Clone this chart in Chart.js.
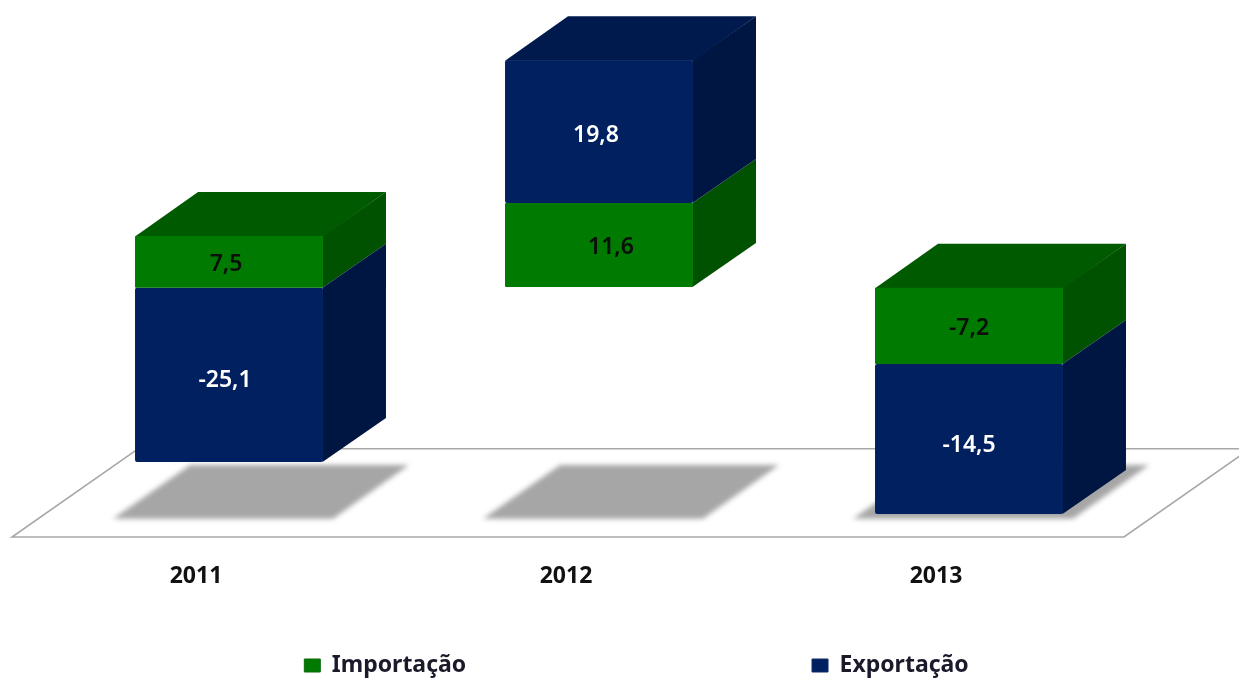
<!DOCTYPE html>
<html><head><meta charset="utf-8">
<style>html,body{margin:0;padding:0;background:#fff;overflow:hidden}#w{width:1239px;height:678px}canvas{filter:blur(.45px)}</style>
<script src="https://cdn.jsdelivr.net/npm/chart.js@4"></script>
</head><body><div id="w"><canvas id="c"></canvas></div>
<script>
const categories = ['2011','2012','2013'];
const importSeriesName = 'Importação';
const exportSeriesName = 'Exportação';
const importSpans = [[35.6,43.0],[35.7,47.7],[24.7,35.6]];
const exportSpans = [[10.7,35.6],[47.7,68.1],[3.3,24.7]];
const importLabels = ['7,5','11,6','-7,2'];
const exportLabels = ['-25,1','19,8','-14,5'];
const importNudge = [[-3,3],[12,2],[0,3]];
const exportNudge = [[-4,6],[-3,4],[0,6]];

const FONT = '"Noto Sans"';
const DX = 63, DY = 44;
const FACE = {
  green: {front:'#007a00', side:'#005200', top:'#005a00'},
  navy:  {front:'#00205f', side:'#001642', top:'#001a4e'}
};
const styles = [FACE.green, FACE.navy];

function poly(ctx, pts, fill){
  ctx.beginPath();
  pts.forEach((p,i)=> i?ctx.lineTo(p[0],p[1]):ctx.moveTo(p[0],p[1]));
  ctx.closePath();
  ctx.fillStyle = fill; ctx.fill();
}

const scene = {
  id:'scene',
  beforeDatasetsDraw(chart){
    const {ctx, chartArea:a, scales:{y}} = chart;
    const fy = y.getPixelForValue(0), by = y.getPixelForValue(12.6);
    const fl = a.left-32, fr = a.right-30;
    ctx.save();
    ctx.strokeStyle = '#a8a8a8'; ctx.lineWidth = 1.6;
    ctx.beginPath();
    ctx.moveTo(fl+DX*2, by); ctx.lineTo(fl, fy); ctx.lineTo(fr, fy); ctx.lineTo(fr+DX*2, by); ctx.lineTo(fl+DX*2, by);
    ctx.stroke();
    // floor shadows
    const m0 = chart.getDatasetMeta(0).data;
    const sb = y.getPixelForValue(2.6), st = y.getPixelForValue(10.3);
    ctx.filter = 'blur(2.5px)';
    m0.forEach(el=>{
      const l = el.x-el.width/2, r = el.x+el.width/2;
      poly(ctx, [[l-22,sb],[r+10,sb],[r+86,st],[l+55,st]], '#a6a6a6');
    });
    ctx.filter = 'none';
    // side and top faces
    categories.forEach((c,i)=>{
      let topY = Infinity, topStyle = null, l=0, r=0;
      chart.data.datasets.forEach((ds,d)=>{
        const el = chart.getDatasetMeta(d).data[i];
        l = el.x-el.width/2; r = el.x+el.width/2;
        const t = Math.min(el.y, el.base), b = Math.max(el.y, el.base);
        poly(ctx, [[r-.5,t],[r+DX,t-DY],[r+DX,b-DY],[r-.5,b]], styles[d].side);
        if (t<topY){topY=t; topStyle=styles[d];}
      });
      poly(ctx, [[l,topY+.5],[l+DX,topY-DY],[r+DX,topY-DY],[r,topY+.5]], topStyle.top);
    });
    ctx.restore();
  },
  afterDatasetsDraw(chart){
    const {ctx} = chart;
    ctx.save();
    ctx.font = `600 23px ${FONT}`;
    ctx.textAlign='center'; ctx.textBaseline='middle';
    [[importLabels,importNudge,'#0a0f0a'],[exportLabels,exportNudge,'#ffffff']].forEach((set,d)=>{
      chart.getDatasetMeta(d).data.forEach((el,i)=>{
        ctx.fillStyle = set[2];
        ctx.fillText(set[0][i], el.x+set[1][i][0], (el.y+el.base)/2+set[1][i][1]);
      });
    });
    ctx.restore();
  }
};

new Chart(document.getElementById('c'),{
  type:'bar',
  data:{labels:categories,datasets:[
    {label:importSeriesName,data:importSpans,backgroundColor:FACE.green.front,borderRadius:1,borderSkipped:false,barPercentage:.508,categoryPercentage:1},
    {label:exportSeriesName,data:exportSpans,backgroundColor:FACE.navy.front,borderRadius:2,borderSkipped:false,barPercentage:.508,categoryPercentage:1}
  ]},
  plugins:[scene],
  options:{
    responsive:true,maintainAspectRatio:false,animation:false,
    layout:{padding:{left:44,right:10,top:0,bottom:-9}},
    plugins:{
      tooltip:{enabled:false},
      legend:{position:'bottom',align:'center',
        labels:{boxWidth:16,boxHeight:13,padding:5,color:'#1a1a2a',font:{family:FONT,size:23,weight:'700'},
          generateLabels(chart){
            return chart.data.datasets.map((ds,i)=>({
              text:i===0?ds.label+'\u00a0'.repeat(57):ds.label,
              fillStyle:ds.backgroundColor,strokeStyle:i?'#0f2c66':'#0b6b0b',lineWidth:1,datasetIndex:i,fontColor:'#1a1a2a'
            }));
          }
        }
      }
    },
    scales:{
      x:{stacked:true,grid:{display:false},border:{display:false},
        ticks:{labelOffset:-33,padding:18,color:'#111',maxRotation:0,font:{family:FONT,size:23,weight:'700'}},
        afterFit(s){s.height=112;}
      },
      y:{position:'right',min:0,max:76.7,grid:{display:false},border:{display:false},
        ticks:{display:false},afterFit(s){s.width=75;}
      }
    }
  }
});
</script></body></html>
